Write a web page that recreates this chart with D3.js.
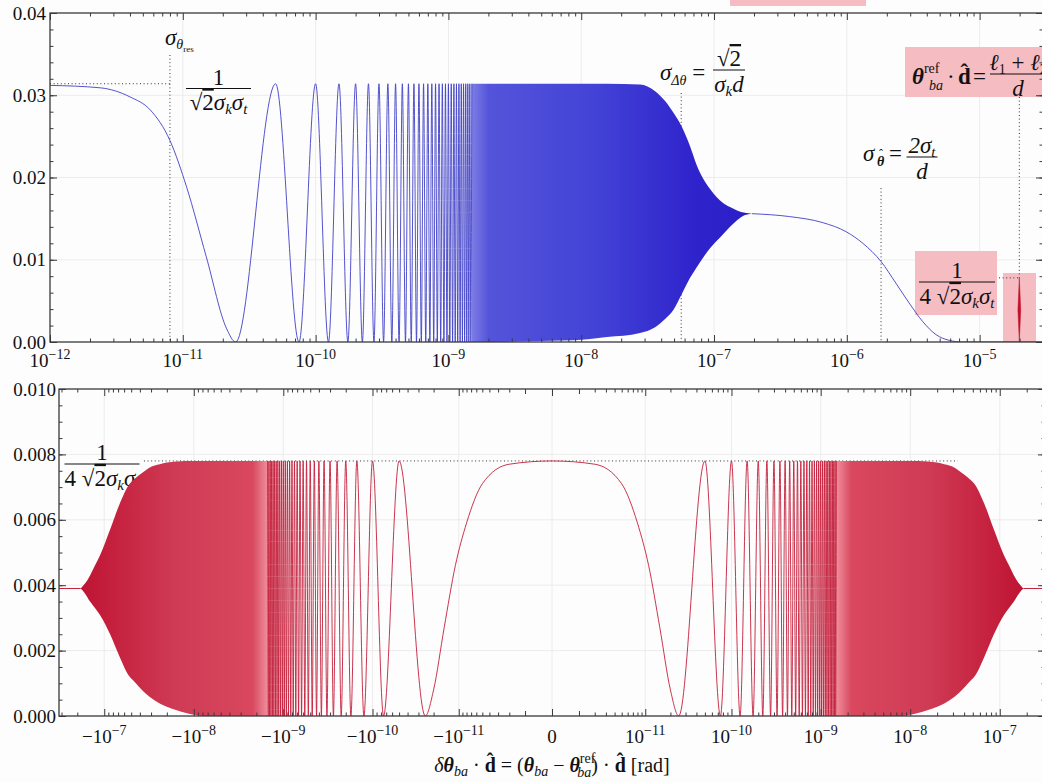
<!DOCTYPE html>
<html>
<head>
<meta charset="utf-8">
<script src="https://cdn.jsdelivr.net/npm/d3@7"></script>
<style>
  body { margin: 0; background: #fdfdfd; }
  svg { display: block; font-family: "Liberation Serif", "DejaVu Serif", serif; }
</style>
</head>
<body>
<svg id="chart" width="1042" height="783"></svg>
<script>
// ---------- values ----------
// top panel: first smooth lobe before the oscillations start
const topLead = [[1e-12, 0.0312], [2.4e-12, 0.0309], [4e-12, 0.0298], [5.7e-12, 0.0282],
                 [8e-12, 0.0245], [1.07e-11, 0.0188], [1.5e-11, 0.0104], [2.14e-11, 0.0016], [2.5e-11, 0]];
// resolved oscillations (same positions in both panels)
const peakX = [5e-11, 1e-10, 1.5e-10, 2e-10, 2.5e-10, 3e-10, 3.5e-10, 4e-10, 4.5e-10, 5e-10,
               5.5e-10, 6e-10, 6.5e-10, 7e-10, 7.5e-10, 8e-10, 8.5e-10, 9e-10, 9.5e-10, 1e-9,
               1.05e-9, 1.1e-9, 1.15e-9, 1.2e-9, 1.25e-9, 1.3e-9, 1.35e-9, 1.4e-9, 1.45e-9, 1.5e-9];
const zeroX = [7.5e-11, 1.25e-10, 1.75e-10, 2.25e-10, 2.75e-10, 3.25e-10, 3.75e-10, 4.25e-10, 4.75e-10,
               5.25e-10, 5.75e-10, 6.25e-10, 6.75e-10, 7.25e-10, 7.75e-10, 8.25e-10, 8.75e-10, 9.25e-10,
               9.75e-10, 1.025e-9, 1.075e-9, 1.125e-9, 1.175e-9, 1.225e-9, 1.275e-9, 1.325e-9, 1.375e-9,
               1.425e-9, 1.475e-9];
const topPeak = 0.0314;
// top panel: dense band (upper / lower envelopes)
const topBandX     = [1.5e-9, 8.7e-9, 1.56e-8, 2.77e-8, 3.6e-8, 4.28e-8, 4.94e-8, 5.71e-8, 6.6e-8,
                      7.41e-8, 9.33e-8, 1.17e-7, 1.32e-7, 1.49e-7, 1.71e-7, 1.93e-7];
const topBandUpper = [0.0314, 0.0314, 0.0314, 0.0313, 0.0305, 0.0293, 0.0279, 0.0262, 0.0238,
                      0.0215, 0.0186, 0.0169, 0.0164, 0.0160, 0.0157, 0.0156];
const topBandLower = [0, 0.0002, 0.0006, 0.0011, 0.0018, 0.0028, 0.0039, 0.0058, 0.0078,
                      0.0091, 0.0114, 0.0131, 0.0140, 0.0148, 0.01545, 0.0156];
// top panel: tail after the band
const topTailX = [1.93e-7, 3.7e-7, 6.6e-7, 9.9e-7, 1.32e-6, 1.81e-6, 2.34e-6, 2.95e-6, 3.72e-6, 4.7e-6, 5.9e-6, 7.4e-6, 3e-5];
const topTailY = [0.0156, 0.01525, 0.01451, 0.0134, 0.0120, 0.00978, 0.00716, 0.00473, 0.0025, 0.00089, 0.0002, 0, 0];
const spikeX = 1.99e-5, spikeTop = 0.0078;
// marker lines in the top panel
const sigmaRes = 8e-12, sigmaDTheta = 5.66e-8, sigmaThetaHat = 1.81e-6;

// bottom panel: central lobe (positive half, mirrored)
const botCenter = [[0, 0.0078], [2e-12, 0.0077], [5e-12, 0.0071], [8e-12, 0.0059], [1.1e-11, 0.0046],
                   [1.5e-11, 0.0027], [2e-11, 0.0008], [2.5e-11, 0]];
const botPeak = 0.0078;
const botBandX     = [1.5e-9, 7.5e-9, 1.25e-8, 2e-8, 2.4e-8, 3.1e-8, 3.5e-8, 4.8e-8, 5.2e-8, 6.7e-8,
                      8.6e-8, 1.12e-7, 1.27e-7, 1.44e-7, 1.64e-7, 1.83e-7];
const botBandUpper = [0.0078, 0.0078, 0.0078, 0.00775, 0.0077, 0.0076, 0.0075, 0.0072, 0.0071, 0.0065,
                      0.0057, 0.0049, 0.0046, 0.0043, 0.00405, 0.0039];
const botBandLower = [0, 0, 0.0001, 0.00028, 0.00038, 0.00058, 0.0007, 0.0011, 0.0012, 0.0018,
                      0.0025, 0.0031, 0.0033, 0.0035, 0.00375, 0.0039];
const botTailX = [1.83e-7, 3.2e-7];
const botTailY = [0.0039, 0.0039];

// ticks
const topXExp = [-12, -11, -10, -9, -8, -7, -6, -5];
const topYTicks = [0, 0.01, 0.02, 0.03, 0.04];
const botXExp = [-11, -10, -9, -8, -7];
const botYTicks = [0, 0.002, 0.004, 0.006, 0.008, 0.010];

// ---------- layout ----------
const svg = d3.select("#chart");
const T = {l: 50, r: 1043, t: 13, b: 342};
const B = {l: 59, r: 1045, t: 389, b: 716};

const xT = d3.scaleLog().domain([1e-12, 3e-5]).range([T.l, T.r]);
const yT = d3.scaleLinear().domain([0, 0.04]).range([T.b, T.t]);
const xB = d3.scaleSymlog().constant(1e-12).domain([-3.2e-7, 3.2e-7]).range([B.l, B.r]);
const yB = d3.scaleLinear().domain([0, 0.010]).range([B.b, B.t]);

const blue = "#3f3fc8", red = "#c41e3a", pink = "#f5bcc2", axisCol = "#3a3a3a";

svg.append("rect").attr("width", 1042).attr("height", 783).attr("fill", "#fdfdfd");

const defs = svg.append("defs");
defs.append("clipPath").attr("id", "clipT").append("rect")
  .attr("x", T.l).attr("y", T.t).attr("width", T.r - T.l).attr("height", T.b - T.t);
defs.append("clipPath").attr("id", "clipB").append("rect")
  .attr("x", B.l).attr("y", B.t).attr("width", B.r - B.l).attr("height", B.b - B.t);

// ---------- helpers ----------
function mtext(g, x, y, parts, size, anchor) {
  const t = g.append("text").attr("x", x).attr("y", y)
    .attr("font-size", size).attr("text-anchor", anchor || "start").attr("fill", "#111");
  parts.forEach(p => {
    const s = t.append("tspan").text(p.t);
    if (p.i) s.attr("font-style", "italic");
    if (p.b) s.attr("font-weight", "bold");
    if (p.fs) s.attr("font-size", p.fs);
    if (p.dy) s.attr("dy", p.dy);
    if (p.dx) s.attr("dx", p.dx);
    if (p.ov) s.style("text-decoration", "overline");
  });
  return t;
}
function frac(g, cx, barY, w, num, den, size) {
  mtext(g, cx, barY - 4, num, size, "middle");
  g.append("line").attr("x1", cx - w / 2).attr("x2", cx + w / 2)
    .attr("y1", barY).attr("y2", barY).attr("stroke", "#111").attr("stroke-width", 1);
  mtext(g, cx, barY + size * 0.95, den, size, "middle");
}
const denom = (four) => (four ? [{t: "4 "}] : []).concat([
  {t: "√"}, {t: "2", ov: true}, {t: "σ", i: true}, {t: "k", i: true, fs: 15, dy: 4},
  {t: "σ", i: true, dy: -4}, {t: "t", i: true, fs: 15, dy: 4}]);
function dotted(g, x1, y1, x2, y2) {
  g.append("line").attr("x1", x1).attr("x2", x2).attr("y1", y1).attr("y2", y2)
    .attr("stroke", "#333").attr("stroke-width", 1).attr("stroke-dasharray", "1,2.6");
}
function powLabel(g, x, y, neg, e) {
  const t = g.append("text").attr("x", x).attr("y", y).attr("font-size", 19)
    .attr("text-anchor", "middle").attr("fill", "#111");
  t.append("tspan").text((neg ? "−" : "") + "10");
  t.append("tspan").text("−" + Math.abs(e)).attr("font-size", 14).attr("dy", -8);
}
function frame(P, xs, ys, xMajor, xMinor, xMid, yMajor, yMinor) {
  const g = svg.append("g");
  const mk = (axis, tr, size, vals) => g.append("g").attr("transform", tr)
    .call(axis.tickValues(vals).tickSize(size).tickFormat(""))
    .call(s => s.select(".domain").remove())
    .call(s => s.selectAll("line").attr("stroke", axisCol));
  [[xMajor, -7], [xMinor, -3.5], [xMid, -5]].forEach(([v, s]) => {
    mk(d3.axisBottom(xs), `translate(0,${P.b})`, s, v);
    mk(d3.axisTop(xs), `translate(0,${P.t})`, s, v);
  });
  [[yMajor, -7], [yMinor, -3.5]].forEach(([v, s]) => {
    mk(d3.axisLeft(ys), `translate(${P.l},0)`, s, v);
    mk(d3.axisRight(ys), `translate(${P.r},0)`, s, v);
  });
  g.append("rect").attr("x", P.l).attr("y", P.t).attr("width", P.r - P.l).attr("height", P.b - P.t)
    .attr("fill", "none").attr("stroke", axisCol).attr("stroke-width", 1.3);
}
const byX = (a, b) => a[0] - b[0];
const zipXY = (xs, ys) => xs.map((x, i) => [x, ys[i]]);

// ================= TOP PANEL =================
const gT = svg.append("g");
// grid
gT.selectAll(".gx").data(topXExp.slice(1)).join("line")
  .attr("x1", e => xT(Math.pow(10, e))).attr("x2", e => xT(Math.pow(10, e)))
  .attr("y1", T.t).attr("y2", T.b).attr("stroke", "#ececec");
gT.selectAll(".gy").data(topYTicks.slice(1, -1)).join("line")
  .attr("x1", T.l).attr("x2", T.r).attr("y1", d => yT(d)).attr("y2", d => yT(d)).attr("stroke", "#ececec");

// highlight boxes
[[730, 0, 136, 6], [905, 47, 140, 50], [915, 251, 82, 64], [1003, 273, 33, 69]].forEach(([x, y, w, h]) =>
  gT.append("rect").attr("x", x).attr("y", y).attr("width", w).attr("height", h).attr("fill", pink));

// annotations
mtext(gT, 165, 45, [{t: "σ", i: true}, {t: "θ", i: true, fs: 14, dy: 4}, {t: "res", fs: 9, dy: 3}], 23);
frac(gT, 218.5, 88.5, 65, [{t: "1"}], denom(false), 23);
mtext(gT, 660, 80, [{t: "σ", i: true}, {t: "Δθ", i: true, fs: 14, dy: 5}, {t: " =", dy: -5}], 23);
frac(gT, 729, 70, 32, [{t: "√"}, {t: "2", ov: true}], [{t: "σ", i: true}, {t: "k", i: true, fs: 15, dy: 4}, {t: "d", i: true, dy: -4}], 23);
// σ with hatted bold theta subscript, pieces placed side by side
mtext(gT, 863, 161, [{t: "σ", i: true}], 23);
mtext(gT, 877, 166, [{t: "θ", i: true, b: true}], 14);
mtext(gT, 879, 158, [{t: "ˆ"}], 12);
mtext(gT, 889, 161, [{t: "="}], 23);
frac(gT, 922, 157, 31, [{t: "2σ", i: true}, {t: "t", i: true, fs: 15, dy: 4}], [{t: "d", i: true}], 23);
mtext(gT, 912, 84, [{t: "θ", i: true, b: true}, {t: "ref", fs: 14, dy: -11}], 23);
mtext(gT, 929, 90, [{t: "ba", i: true}], 14);
mtext(gT, 947, 84, [{t: "·"}], 23);
mtext(gT, 958, 84, [{t: "d̂", b: true}], 23);
mtext(gT, 973, 84, [{t: "="}], 23);
frac(gT, 1018, 74, 56, [{t: "ℓ", i: true}, {t: "1", fs: 14, dy: 4}, {t: " + ", dy: -4}, {t: "ℓ", i: true}, {t: "2", fs: 14, dy: 4}],
     [{t: "d", i: true}], 23);
frac(gT, 957, 282, 76, [{t: "1"}], denom(true), 23);

// marker lines
dotted(gT, xT(1e-12), yT(topPeak), xT(sigmaRes), yT(topPeak));
dotted(gT, xT(sigmaRes), 55, xT(sigmaRes), T.b);
dotted(gT, xT(sigmaDTheta), 93, xT(sigmaDTheta), T.b);
dotted(gT, xT(sigmaThetaHat), 188, xT(sigmaThetaHat), T.b);
dotted(gT, xT(spikeX), 97, xT(spikeX), yT(spikeTop));
dotted(gT, 999, yT(spikeTop), xT(spikeX), yT(spikeTop));

// curve
const cT = gT.append("g").attr("clip-path", "url(#clipT)");
const gradT = defs.append("linearGradient").attr("id", "gradT").attr("gradientUnits", "userSpaceOnUse")
  .attr("x1", xT(1.5e-9)).attr("x2", xT(1.93e-7)).attr("y1", 0).attr("y2", 0);
[[0, "#7d7de4"], [0.06, "#5454da"], [0.45, "#4242d6"], [0.8, "#2f23cc"], [1, "#2a1fc6"]].forEach(([o, c]) =>
  gradT.append("stop").attr("offset", o).attr("stop-color", c));

const topOsc = peakX.map(x => [x, topPeak]).concat(zeroX.map(x => [x, 0])).sort(byX);
const lineT = d3.line().x(d => xT(d[0])).y(d => yT(d[1])).curve(d3.curveMonotoneX);
const areaT = d3.area().x(d => xT(d[0])).y0(d => yT(d[2])).y1(d => yT(d[1])).curve(d3.curveMonotoneX);
cT.append("path").datum(topBandX.map((x, i) => [x, topBandUpper[i], topBandLower[i]]))
  .attr("d", areaT).attr("fill", "url(#gradT)");
cT.append("path").datum(topLead.concat(topOsc)).attr("d", lineT)
  .attr("fill", "none").attr("stroke", blue).attr("stroke-width", 0.9);
cT.append("path").datum(zipXY(topTailX, topTailY)).attr("d", lineT)
  .attr("fill", "none").attr("stroke", blue).attr("stroke-width", 0.9);
// red spike
const sx = xT(spikeX), sy0 = yT(0), sy1 = yT(spikeTop);
cT.append("path").attr("d", `M${sx},${sy1} L${sx + 1.4},${(sy0 + sy1) / 2} L${sx},${sy0} L${sx - 1.4},${(sy0 + sy1) / 2}Z`)
  .attr("fill", "#c0102a").attr("stroke", "#c0102a").attr("stroke-width", 0.5);

// frame + ticks
const topMinor = [];
topXExp.forEach(e => d3.range(2, 10).forEach(m => { const v = m * Math.pow(10, e); if (v <= 3e-5) topMinor.push(v); }));
frame(T, xT, yT, topXExp.map(e => Math.pow(10, e)), topMinor, [], topYTicks, d3.range(0, 0.0401, 0.002));
topXExp.forEach(e => powLabel(svg, xT(Math.pow(10, e)), 367, false, e));
topYTicks.forEach(v => svg.append("text").attr("x", 46).attr("y", yT(v)).attr("dy", "0.35em")
  .attr("text-anchor", "end").attr("font-size", 19).attr("fill", "#111").text(d3.format(".2f")(v)));

// ================= BOTTOM PANEL =================
const gB = svg.append("g");
const botMajor = [0].concat(botXExp.map(e => Math.pow(10, e)), botXExp.map(e => -Math.pow(10, e)));
gB.selectAll(".gx").data(botMajor).join("line")
  .attr("x1", d => xB(d)).attr("x2", d => xB(d)).attr("y1", B.t).attr("y2", B.b).attr("stroke", "#ececec");
gB.selectAll(".gy").data(botYTicks.slice(1, -1)).join("line")
  .attr("x1", B.l).attr("x2", B.r).attr("y1", d => yB(d)).attr("y2", d => yB(d)).attr("stroke", "#ececec");

frac(gB, 102, 464, 75, [{t: "1"}], denom(true), 23);
dotted(gB, xB(-3.6e-8), yB(botPeak), xB(3.4e-8), yB(botPeak));

const cB = gB.append("g").attr("clip-path", "url(#clipB)");
function bandGrad(id, x1, x2) {
  const gr = defs.append("linearGradient").attr("id", id).attr("gradientUnits", "userSpaceOnUse")
    .attr("x1", x1).attr("x2", x2).attr("y1", 0).attr("y2", 0);
  [[0, "#ef8e9c"], [0.08, "#d9485f"], [0.5, "#cf3a54"], [0.85, "#c41f3c"], [1, "#bd1432"]].forEach(([o, c]) =>
    gr.append("stop").attr("offset", o).attr("stop-color", c));
}
bandGrad("gradBR", xB(1.5e-9), xB(1.83e-7));
bandGrad("gradBL", xB(-1.5e-9), xB(-1.83e-7));

const lineB = d3.line().x(d => xB(d[0])).y(d => yB(d[1])).curve(d3.curveMonotoneX);
const areaB = d3.area().x(d => xB(d[0])).y0(d => yB(d[2])).y1(d => yB(d[1])).curve(d3.curveMonotoneX);
const bandPos = botBandX.map((x, i) => [x, botBandUpper[i], botBandLower[i]]);
const bandNeg = bandPos.map(d => [-d[0], d[1], d[2]]).sort(byX);
cB.append("path").datum(bandPos).attr("d", areaB).attr("fill", "url(#gradBR)");
cB.append("path").datum(bandNeg).attr("d", areaB).attr("fill", "url(#gradBL)");

const botHalf = botCenter.concat(peakX.map(x => [x, botPeak]), zeroX.map(x => [x, 0])).sort(byX);
const botAll = botHalf.filter(d => d[0] > 0).map(d => [-d[0], d[1]]).concat(botHalf).sort(byX);
cB.append("path").datum(botAll).attr("d", lineB)
  .attr("fill", "none").attr("stroke", red).attr("stroke-width", 0.9);
const tailPos = zipXY(botTailX, botTailY);
cB.append("path").datum(tailPos).attr("d", lineB).attr("fill", "none").attr("stroke", red).attr("stroke-width", 1);
cB.append("path").datum(tailPos.map(d => [-d[0], d[1]]).sort(byX)).attr("d", lineB)
  .attr("fill", "none").attr("stroke", red).attr("stroke-width", 1);

const botMinor = [];
[-12, -11, -10, -9, -8, -7].forEach(e => d3.range(2, 10).forEach(m => {
  const v = m * Math.pow(10, e); if (v <= 3.2e-7) { botMinor.push(v); botMinor.push(-v); }
}));
frame(B, xB, yB, botMajor, botMinor, [1e-12, -1e-12], botYTicks, d3.range(0, 0.01001, 0.0005));
botXExp.forEach(e => {
  powLabel(svg, xB(Math.pow(10, e)), 743, false, e);
  powLabel(svg, xB(-Math.pow(10, e)), 743, true, e);
});
svg.append("text").attr("x", xB(0)).attr("y", 743).attr("text-anchor", "middle")
  .attr("font-size", 19).attr("fill", "#111").text("0");
botYTicks.forEach(v => svg.append("text").attr("x", 56).attr("y", yB(v)).attr("dy", "0.35em")
  .attr("text-anchor", "end").attr("font-size", 19).attr("fill", "#111").text(d3.format(".3f")(v)));

// x-axis title
mtext(svg, 552, 772, [
  {t: "δ", i: true}, {t: "θ", i: true, b: true}, {t: "ba", i: true, fs: 14, dy: 4},
  {t: " · ", dy: -4}, {t: "d̂", b: true}, {t: " = ("},
  {t: "θ", i: true, b: true}, {t: "ba", i: true, fs: 14, dy: 4}, {t: " − ", dy: -4},
  {t: "θ", i: true, b: true}, {t: "ref", fs: 14, dy: -9}, {t: "ba", i: true, fs: 14, dx: -18, dy: 14},
  {t: ") · ", dy: -5}, {t: "d̂", b: true}, {t: " [rad]"}
], 20, "middle");
</script>
</body>
</html>
